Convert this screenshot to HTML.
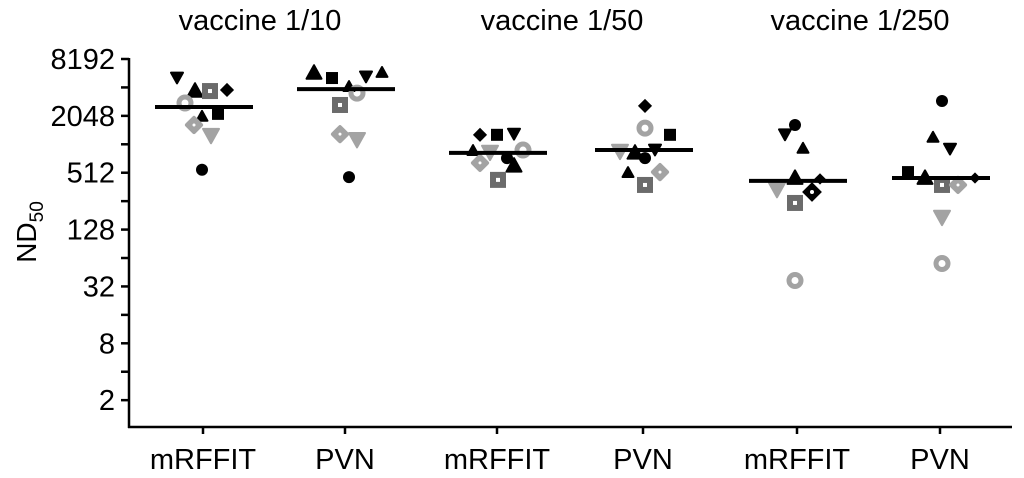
<!DOCTYPE html>
<html><head><meta charset="utf-8"><style>
html,body{margin:0;padding:0;background:#fff;}
svg{display:block;font-family:"Liberation Sans",Arial,sans-serif;}
</style></head><body>
<svg id="chart" width="1024" height="478" viewBox="0 0 1024 478" xmlns="http://www.w3.org/2000/svg"></svg>
<script>
// ----- data -----
const categories = ["mRFFIT","PVN","mRFFIT","PVN","mRFFIT","PVN"];
const groupTitles = ["vaccine 1/10","vaccine 1/50","vaccine 1/250"];
const yTicks = [2,8,32,128,512,2048,8192];
const yMinorTicks = [4,16,64,256,1024,4096];
const means = [2540, 3930, 830, 890, 420, 450];
// per point: category index, ND50 value, marker kind
const ptCat = [0,0,0,0,0,0,0,0,0,0, 1,1,1,1,1,1,1,1,1,1, 2,2,2,2,2,2,2,2,2,2, 3,3,3,3,3,3,3,3,3,3, 4,4,4,4,4,4,4,4,4, 5,5,5,5,5,5,5,5,5,5];
const ptVal = [5150,3850,3750,3850,2800,2048,2150,1640,1250,550,
  5970,5150,4240,5290,5970,3570,2670,1310,1130,460,
  1290,1290,1310,890,890,830,650,730,620,430,
  2610,1520,1290,850,850,890,730,520,520,380,
  1640,1290,940,460,440,335,320,245,37,
  2940,1230,910,520,460,380,380,450,170,56];
const ptKind = ["v","t","gs","d","gr","ts","s","gd","gv","c",
  "t","s","ts","v","ts","gr","gs","gd","gv","c",
  "d","s","v","ts","gr","gv","gd","c","t","gs",
  "d","gr","s","gv","t","v","c","ts","gd","gs",
  "c","v","ts","t","ds","gv","dr","gs","gr",
  "c","ts","v","s","t","gs","gd","ds","gv","gr"];
// horizontal jitter (layout only, px from category center)
const ptDx = [-26,-8,7,24,-18,-1,15,-9,8,-1,
  -31,-13,4,21,37,12,-5,-5,12,4,
  -17,0,17,-24,26,-7,-17,10,17,1,
  2,2,27,-23,-8,12,2,-15,17,2,
  -2,-12,6,-2,23,-20,15,-2,-2,
  2,-7,10,-32,-15,2,18,35,2,2];

// ----- scales -----
const yTop = 59, stepPerLog2 = 28.43, plotBottom = 427, axisX = 129;
function y(v){ return yTop + (13 - Math.log2(v)) * stepPerLog2; }
const catX = [203,345,497,643,797,940];
function x(i){ return catX[i]; }
const groupX = [260,562,860];

const svg = document.getElementById('chart');
const NS = "http://www.w3.org/2000/svg";
function mk(tag, attrs, parent){
  const e = document.createElementNS(NS, tag);
  for (const k in attrs) e.setAttribute(k, attrs[k]);
  (parent||svg).appendChild(e);
  return e;
}

// axes
const axes = mk('g', {});


const yAxisLine = mk('line', {x1:axisX,y1:yTop-1,x2:axisX,y2:plotBottom+1,stroke:'#000','stroke-width':2.5}, axes);


const xAxisLine = mk('line', {x1:axisX-1,y1:plotBottom,x2:1012,y2:plotBottom,stroke:'#000','stroke-width':2.5}, axes);



yMinorTicks.forEach(t => {
  const ty = y(t);
  const tk = mk('line', {x1:axisX-8,y1:ty,x2:axisX,y2:ty,stroke:'#000','stroke-width':2.5}, axes);
  
  
});
yTicks.forEach(t => {
  const ty = y(t);
  const tk = mk('line', {x1:axisX-8,y1:ty,x2:axisX,y2:ty,stroke:'#000','stroke-width':2.5}, axes);
  
  
  const lb = mk('text', {x:115,y:ty+10,'text-anchor':'end','font-size':29,fill:'#000'}, axes);
  lb.textContent = t;
  
  
});
const yTitle = mk('text', {x:0,y:0,'font-size':28,fill:'#000','text-anchor':'middle',transform:'translate(36,232) rotate(-90)'}, axes);
yTitle.innerHTML = 'ND<tspan font-size="19" dy="7">50</tspan>';



categories.forEach((c,i) => {
  const tk = mk('line', {x1:x(i),y1:plotBottom,x2:x(i),y2:plotBottom+7,stroke:'#000','stroke-width':2.5}, axes);
  
  
  const lb = mk('text', {x:x(i),y:469,'text-anchor':'middle','font-size':29,fill:'#000'}, axes);
  lb.textContent = c;
  
  
});
groupTitles.forEach((g,i) => {
  const lb = mk('text', {x:groupX[i],y:30,'text-anchor':'middle','font-size':29,fill:'#000'});
  lb.textContent = g;
  
  
});

// points
const BLACK = '#000', LG = '#a3a3a3', DG = '#6b6b6b';
const pts = mk('g', {});


function tri(cx, cy, s, down, fill, parent){
  const h = s*0.9, w = s/2;
  const p = down ? `${cx-w},${cy-h/2} ${cx+w},${cy-h/2} ${cx},${cy+h/2}` : `${cx-w},${cy+h/2} ${cx+w},${cy+h/2} ${cx},${cy-h/2}`;
  return mk('polygon', {points:p, fill:fill, stroke:fill,'stroke-width':2,'stroke-linejoin':'round'}, parent);
}
ptVal.forEach((v,i) => {
  const cx = x(ptCat[i]) + ptDx[i], cy = y(v), k = ptKind[i];
  const g = mk('g', {}, pts);
  
  
  if (k==='c') mk('circle',{cx,cy,r:6,fill:BLACK},g);
  else if (k==='t') tri(cx,cy,15,false,BLACK,g);
  else if (k==='ts') tri(cx,cy,11,false,BLACK,g);
  else if (k==='v') tri(cx,cy,12,true,BLACK,g);
  else if (k==='gv') tri(cx,cy,16,true,LG,g);
  else if (k==='s') mk('rect',{x:cx-6,y:cy-6,width:12,height:12,fill:BLACK},g);
  else if (k==='d') mk('rect',{x:cx-5,y:cy-5,width:10,height:10,fill:BLACK,transform:`rotate(45 ${cx} ${cy})`},g);
  else if (k==='ds') mk('rect',{x:cx-4,y:cy-4,width:8,height:8,fill:BLACK,transform:`rotate(45 ${cx} ${cy})`},g);
  else if (k==='dr'){ mk('rect',{x:cx-7,y:cy-7,width:14,height:14,fill:BLACK,transform:`rotate(45 ${cx} ${cy})`},g); mk('circle',{cx,cy,r:2,fill:'#fff'},g); }
  else if (k==='gd'){ mk('rect',{x:cx-7,y:cy-7,width:14,height:14,rx:2,fill:LG,transform:`rotate(45 ${cx} ${cy})`},g); mk('circle',{cx,cy,r:1.5,fill:'#fff'},g); }
  else if (k==='gs'){ mk('rect',{x:cx-8,y:cy-8,width:16,height:16,fill:DG},g); mk('rect',{x:cx-2,y:cy-2,width:4,height:4,fill:'#fff'},g); }
  else if (k==='gr'){ mk('circle',{cx,cy,r:6,fill:'none',stroke:LG,'stroke-width':5},g); }
});

// means
means.forEach((m,i) => {
  const l = mk('line', {x1:x(i)-48,y1:y(m),x2:x(i)+50,y2:y(m),stroke:'#000','stroke-width':4});
  
  
});
</script>
</body></html>
